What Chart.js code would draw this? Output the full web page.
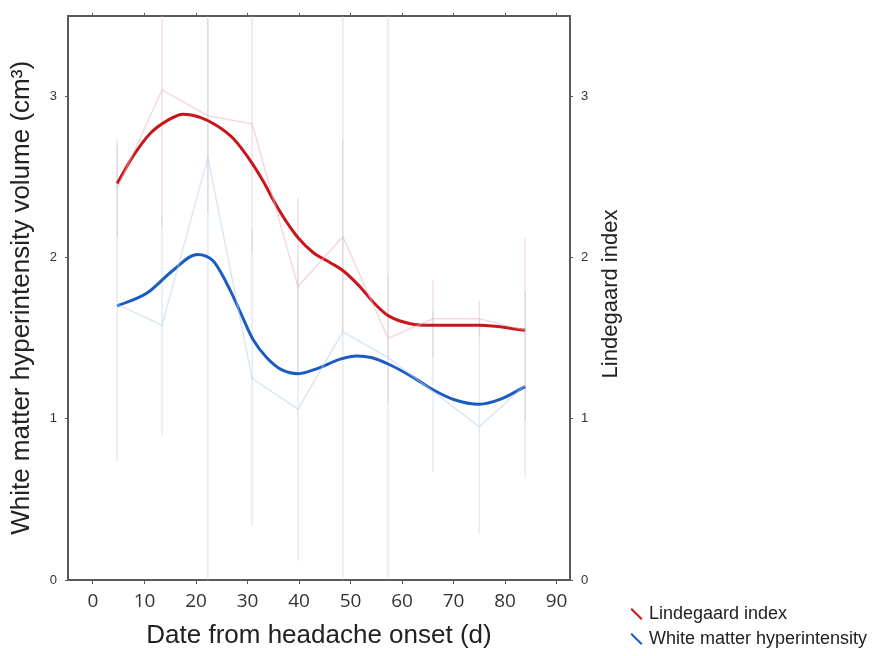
<!DOCTYPE html>
<html>
<head>
<meta charset="utf-8">
<script src="https://cdn.jsdelivr.net/npm/chart.js@4.4.1/dist/chart.umd.js"></script>
<style>
  html, body { margin: 0; padding: 0; background: #fff; }
  #wrap { position: relative; width: 874px; height: 656px; }
  #legend { position: absolute; left: 629px; top: 601px; font-family: "Liberation Sans", Arial, sans-serif; font-size: 18px; color: #222; }
  .item { height: 25px; line-height: 25px; white-space: nowrap; }
  .ico { display: inline-block; width: 15px; height: 2px; margin-right: 5px; vertical-align: middle; transform: rotate(45deg); }
  #tituloDir { position: absolute; left: 460px; top: 281px; width: 300px; text-align: center; font-family: "Liberation Sans", Arial, sans-serif; font-size: 22px; color: #222; transform: rotate(-90deg); }
</style>
</head>
<body>
<div id="wrap">
  <canvas id="grafico" width="874" height="656"></canvas>
  <div id="tituloDir">Lindegaard index</div>
  <div id="legend">
    <div class="item"><span class="ico" style="background:#c8161d"></span>Lindegaard index</div>
    <div class="item"><span class="ico" style="background:#1b5cc4"></span>White matter hyperintensity</div>
  </div>
</div>
<script>
// dias desde o início da cefaleia
const dias = [4.7, 13.4, 22.3, 30.9, 39.8, 48.5, 57.3, 66.0, 75.0, 83.9];

// médias e erros
const lindMedia = [2.43, 3.04, 2.88, 2.83, 1.82, 2.13, 1.50, 1.62, 1.62, 1.55];
const lindErro  = [0.30, 0.85, 0.60, 0.80, 0.55, 0.60, 0.40, 0.24, 0.11, 0.57];
const wmhMedia  = [1.71, 1.58, 2.62, 1.25, 1.06, 1.54, 1.38, 1.17, 0.95, 1.21];
const wmhErro   = [0.98, 0.68, 2.70, 0.92, 0.94, 2.00, 2.20, 0.50, 0.67, 0.58];

// curvas suavizadas
const lindSuaveX = [4.7, 7.8, 11.1, 14.4, 17.5, 20.8, 24.0, 27.2, 31.0, 33.1, 35.3, 37.6, 39.9, 42.8, 46.0, 48.5, 51.8, 54.5, 57.3, 61.6, 66.0, 75.0, 83.9];
const lindSuaveY = [2.46, 2.63, 2.77, 2.85, 2.89, 2.87, 2.82, 2.74, 2.58, 2.47, 2.34, 2.22, 2.12, 2.03, 1.97, 1.92, 1.82, 1.72, 1.64, 1.59, 1.58, 1.58, 1.55];
const wmhSuaveX  = [4.7, 10.5, 15.5, 20.2, 23.3, 26.6, 28.9, 31.1, 33.7, 36.3, 39.9, 43.4, 48.0, 51.3, 54.0, 57.3, 62.0, 66.0, 70.0, 75.0, 79.0, 83.9];
const wmhSuaveY  = [1.70, 1.78, 1.92, 2.02, 1.98, 1.80, 1.64, 1.49, 1.38, 1.31, 1.28, 1.31, 1.37, 1.39, 1.38, 1.34, 1.26, 1.18, 1.12, 1.09, 1.12, 1.20];

const ticksY = [0, 1, 2, 3];
const ticksX = [0, 10, 20, 30, 40, 50, 60, 70, 80, 90];

const pares = (xs, ys) => xs.map((v, i) => ({ x: v, y: ys[i] }));

const barrasErro = {
  id: "barrasErro",
  beforeDatasetsDraw(chart) {
    const { ctx, chartArea, scales } = chart;
    ctx.save();
    ctx.beginPath();
    ctx.rect(chartArea.left, chartArea.top, chartArea.right - chartArea.left, chartArea.bottom - chartArea.top);
    ctx.clip();
    ctx.lineWidth = 1.5;
    const desenha = (media, erro, cor) => {
      ctx.strokeStyle = cor;
      dias.forEach((d, i) => {
        const px = scales.x.getPixelForValue(d);
        ctx.beginPath();
        ctx.moveTo(px, scales.y.getPixelForValue(media[i] + erro[i]));
        ctx.lineTo(px, scales.y.getPixelForValue(media[i] - erro[i]));
        ctx.stroke();
      });
    };
    desenha(lindMedia, lindErro, "rgba(228,180,185,0.4)");
    desenha(wmhMedia, wmhErro, "rgba(180,208,228,0.4)");
    ctx.restore();
  }
};

const eixoCor = "#5a5a5a";
const fonte = "'Liberation Sans', Arial, sans-serif";

new Chart(document.getElementById("grafico"), {
  type: "line",
  data: {
    datasets: [
      { data: pares(dias, lindMedia), borderColor: "rgba(235,180,185,0.5)", borderWidth: 1.5, pointRadius: 0, tension: 0, yAxisID: "y2" },
      { data: pares(dias, wmhMedia), borderColor: "rgba(180,210,230,0.5)", borderWidth: 1.5, pointRadius: 0, tension: 0 },
      { data: pares(lindSuaveX, lindSuaveY), borderColor: "#c8161d", borderWidth: 3, pointRadius: 0, cubicInterpolationMode: "monotone", yAxisID: "y2" },
      { data: pares(wmhSuaveX, wmhSuaveY), borderColor: "#1b5cc4", borderWidth: 3, pointRadius: 0, cubicInterpolationMode: "monotone" }
    ]
  },
  options: {
    responsive: false,
    animation: false,
    layout: { padding: { left: 0, top: 0, right: 254, bottom: 0 } },
    plugins: { legend: { display: false }, tooltip: { enabled: false } },
    scales: {
      x: {
        type: "linear", position: "bottom", min: -4.85, max: 92.6,
        afterFit: s => { s.height = 76; },
        afterBuildTicks: s => { s.ticks = ticksX.map(v => ({ value: v })); },
        ticks: { font: { family: "'Open Sans', sans-serif", size: 19 }, color: "#333", padding: 6 },
        grid: { drawOnChartArea: false, tickLength: 4, color: eixoCor },
        border: { color: eixoCor, width: 2 },
        title: { display: true, text: "Date from headache onset (d)", font: { family: fonte, size: 26 }, color: "#222", padding: { top: 0, bottom: 5 } }
      },
      xTop: {
        type: "linear", position: "top", min: -4.85, max: 92.6,
        afterFit: s => { s.height = 10; },
        afterBuildTicks: s => { s.ticks = ticksX.map(v => ({ value: v })); },
        ticks: { display: false },
        grid: { drawOnChartArea: false, tickLength: 3, color: eixoCor },
        border: { color: eixoCor, width: 2 }
      },
      y: {
        position: "left", min: 0, max: 3.5,
        afterFit: s => { s.width = 68; },
        afterBuildTicks: s => { s.ticks = ticksY.map(v => ({ value: v })); },
        ticks: { font: { family: fonte, size: 13 }, color: "#333", padding: 8 },
        grid: { drawOnChartArea: false, tickLength: 3, color: eixoCor },
        border: { color: eixoCor, width: 2 },
        title: { display: true, text: "White matter hyperintensity volume (cm³)", font: { family: fonte, size: 26 }, color: "#222", padding: { top: 6, bottom: 0 } }
      },
      y2: {
        position: "right", min: 0, max: 3.5,
        afterFit: s => { s.width = 50; },
        afterBuildTicks: s => { s.ticks = ticksY.map(v => ({ value: v })); },
        ticks: { font: { family: fonte, size: 13 }, color: "#333", padding: 8 },
        grid: { drawOnChartArea: false, tickLength: 3, color: eixoCor },
        border: { color: eixoCor, width: 2 }
      }
    }
  },
  plugins: [barrasErro]
});
</script>
</body>
</html>
